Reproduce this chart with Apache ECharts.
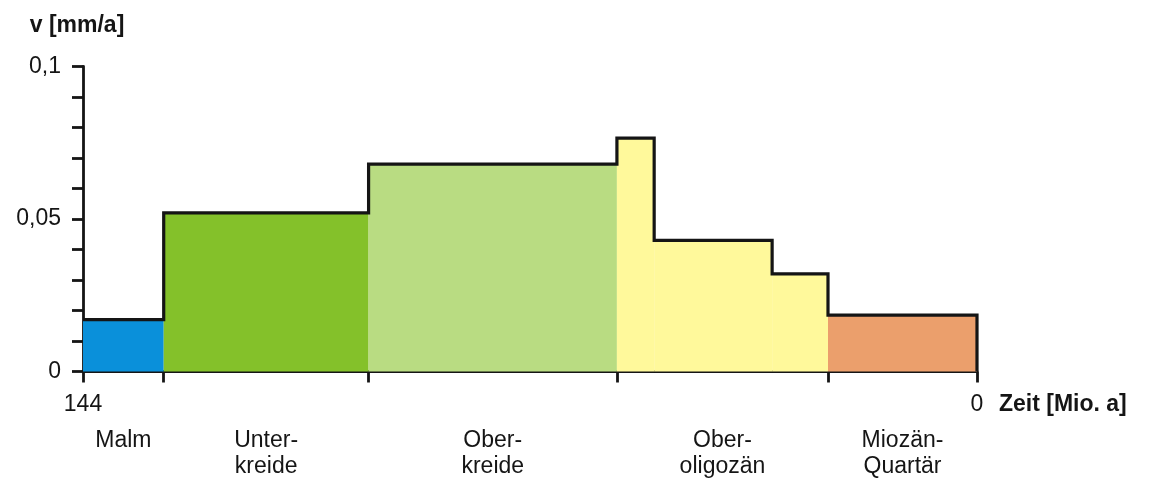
<!DOCTYPE html>
<html>
<head>
<meta charset="utf-8">
<script src="https://cdn.jsdelivr.net/npm/echarts@6/dist/echarts.min.js"></script>
<style>
  html, body { margin: 0; padding: 0; background: #fff; }
  #chart { width: 1158px; height: 481px; }
</style>
</head>
<body>
<div id="chart"></div>
<script>
// Stratigraphic stages (Mio. a, oldest first)
const periodStart = [144, 131, 98, 58, 24];
const periodEnd = [131, 98, 58, 24, 0];
const periodNames = ['Malm', 'Unter-\nkreide', 'Ober-\nkreide', 'Ober-\noligozän', 'Miozän-\nQuartär'];

// Velocity steps [mm/a]
const stepStart = [144, 131, 98, 58, 52, 33, 24];
const stepEnd = [131, 98, 58, 52, 33, 24, 0];
const stepVelocity = [0.017, 0.052, 0.068, 0.0765, 0.043, 0.032, 0.0185];
const stepPeriod = [0, 1, 2, 3, 3, 3, 4];

// Axis ticks and labels
const timeTicks = [144, 131, 98, 58, 24, 0];
const timeLabels = [144, 0];
const velocityLabels = [0, 0.05, 0.1];

const periodColors = ['#0a90da', '#84c12a', '#b9dc82', '#fff99b', '#eb9f6c'];
const FONT = '"Liberation Sans", Arial, sans-serif';
const FS = 23;

const periodMid = periodStart.map((s, i) => (s + periodEnd[i]) / 2);

// fill rectangles
const fillData = stepStart.map((s, i) => [s, stepEnd[i], stepVelocity[i], stepPeriod[i]]);

// outline of the step curve
const outline = [];
stepStart.forEach((s, i) => {
  outline.push([s, stepVelocity[i]]);
  outline.push([stepEnd[i], stepVelocity[i]]);
});
outline.push([0, 0]);

const chart = echarts.init(document.getElementById('chart'), null, { renderer: 'canvas' });

const axisLineStyle = { color: '#151515', width: 2.8 };

chart.setOption({
  animation: false,
  grid: { left: 83, right: 181, top: 66.5, bottom: 109.5, containLabel: false },
  xAxis: [{
    type: 'value',
    min: 0, max: 144,
    inverse: true,
    name: 'Zeit [Mio. a]',
    nameLocation: 'start',
    nameGap: 22,
    nameTextStyle: { fontFamily: FONT, fontSize: FS, fontWeight: 'bold', color: '#151515', verticalAlign: 'top', padding: [22, 0, 0, 0] },
    axisLine: { show: true, onZero: false, lineStyle: axisLineStyle },
    splitLine: { show: false },
    axisTick: { show: true, inside: false, length: 11, customValues: timeTicks, lineStyle: axisLineStyle },
    axisLabel: {
      customValues: timeLabels,
      margin: 22,
      fontFamily: FONT, fontSize: FS, color: '#151515'
    }
  }, {
    type: 'value',
    min: 0, max: 144,
    inverse: true,
    position: 'bottom',
    axisLine: { show: false, onZero: false },
    axisTick: { show: false },
    splitLine: { show: false },
    axisLabel: {
      customValues: periodMid,
      margin: 56,
      fontFamily: FONT, fontSize: FS, color: '#151515', lineHeight: 26,
      formatter: v => periodNames[periodMid.indexOf(v)] || ''
    }
  }],
  yAxis: {
    type: 'value',
    position: 'left',
    min: 0, max: 0.1, interval: 0.01,
    name: 'v [mm/a]',
    nameLocation: 'end',
    nameGap: 29,
    nameTextStyle: { fontFamily: FONT, fontSize: FS, fontWeight: 'bold', color: '#151515', align: 'center', padding: [0, 12, 0, 0] },
    axisLine: { show: true, onZero: false, lineStyle: axisLineStyle },
    splitLine: { show: false },
    axisTick: { show: true, inside: false, length: 11, lineStyle: axisLineStyle },
    axisLabel: {
      customValues: velocityLabels,
      margin: 22,
      fontFamily: FONT, fontSize: FS, color: '#151515',
      formatter: v => String(v).replace('.', ',')
    }
  },
  series: [{
    type: 'custom',
    xAxisIndex: 0,
    z: 1,
    data: fillData,
    renderItem: (params, api) => {
      const p0 = api.coord([api.value(0), api.value(2)]);
      const p1 = api.coord([api.value(1), 0]);
      const x = Math.min(p0[0], p1[0]);
      return {
        type: 'rect',
        shape: { x: x, y: p0[1], width: Math.abs(p1[0] - p0[0]), height: p1[1] - p0[1] },
        style: { fill: periodColors[api.value(3)], stroke: null }
      };
    }
  }, {
    type: 'line',
    xAxisIndex: 0,
    z: 2,
    data: outline,
    showSymbol: false,
    symbol: 'none',
    lineStyle: { color: '#151515', width: 3.2, join: 'miter' }
  }]
});
</script>
</body>
</html>
